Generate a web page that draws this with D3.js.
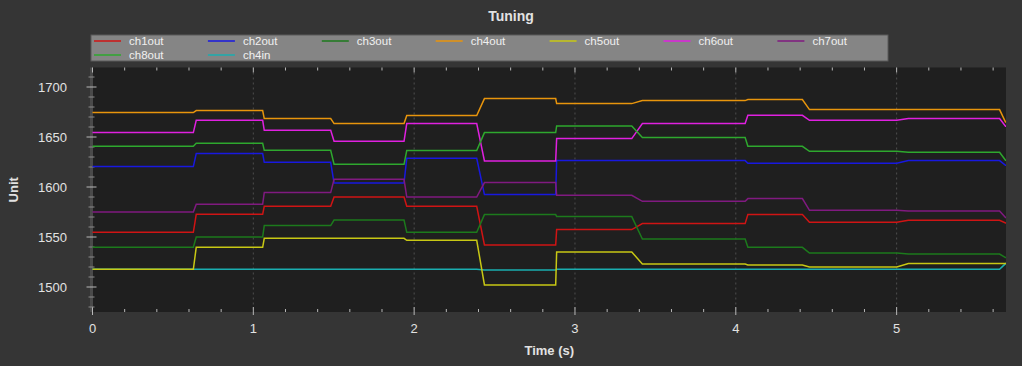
<!DOCTYPE html>
<html>
<head>
<meta charset="utf-8">
<script src="https://cdn.jsdelivr.net/npm/d3@7"></script>
<style>
  body { margin: 0; background: #353535; }
  .chart text { font-family: "Liberation Sans", Arial, sans-serif; fill: #e2e2e2; }
</style>
</head>
<body>
<div class="chart"></div>
<script>
// series names, colours (legend order)
const names = ["ch1out", "ch2out", "ch3out", "ch4out", "ch5out", "ch6out", "ch7out", "ch8out", "ch4in"];
const colors = ["#d01414", "#1818e0", "#1c7a1c", "#e8950c", "#c8c814", "#e020e0", "#801a80", "#2ea82e", "#1aaeb0"];

// times (s) where each step begins and ends its ramp
const stepStart = [0.627, 1.058, 1.481, 1.937, 2.389, 2.880, 3.353, 4.058, 4.414, 5.001, 5.640];
const stepEnd   = [0.645, 1.068, 1.502, 1.954, 2.437, 2.886, 3.419, 4.075, 4.458, 5.073, 5.677];
const tMax = 5.68;

// level of each series between the steps
const ch1out = [1554.7, 1572.7, 1580.7, 1590.0, 1580.7, 1542.0, 1557.4, 1563.4, 1572.4, 1564.7, 1566.7, 1564.0];
const ch2out = [1620.4, 1633.4, 1624.7, 1604.0, 1628.7, 1592.4, 1626.4, 1626.4, 1623.7, 1623.7, 1626.4, 1621.7];
const ch3out = [1539.7, 1550.0, 1561.4, 1567.0, 1554.7, 1572.4, 1570.4, 1548.0, 1539.7, 1534.0, 1533.0, 1529.4];
const ch4out = [1674.4, 1676.4, 1668.4, 1663.4, 1671.4, 1688.4, 1683.4, 1686.4, 1687.4, 1677.4, 1677.4, 1665.0];
const ch5out = [1517.7, 1539.7, 1548.7, 1548.7, 1546.7, 1502.0, 1535.0, 1523.0, 1522.0, 1520.0, 1523.4, 1523.4];
const ch6out = [1654.4, 1666.7, 1656.7, 1645.7, 1663.4, 1626.0, 1648.4, 1663.4, 1671.7, 1666.7, 1668.4, 1660.7];
const ch7out = [1575.0, 1582.7, 1594.4, 1607.7, 1590.0, 1604.4, 1591.7, 1585.7, 1588.4, 1576.7, 1576.0, 1569.4];
const ch8out = [1640.7, 1643.7, 1636.7, 1622.7, 1636.4, 1654.4, 1661.0, 1649.4, 1640.7, 1635.7, 1634.7, 1626.7];
const ch4in  = [1517.7, 1517.7, 1517.7, 1517.7, 1517.7, 1517.0, 1517.7, 1517.7, 1517.7, 1517.7, 1517.7, 1523.4];
const levels = [ch1out, ch2out, ch3out, ch4out, ch5out, ch6out, ch7out, ch8out, ch4in];

const xTicks = [0, 1, 2, 3, 4, 5];
const yTicks = [1500, 1550, 1600, 1650, 1700];

// step levels -> line vertices
function points(lv){
    const pts = [[0, lv[0]]];
    for (let i = 0; i < stepStart.length; i++) {
        pts.push([stepStart[i], lv[i]]);
        pts.push([stepEnd[i], lv[i+1]]);
    }
    pts.push([tMax, lv[lv.length-1]]);
    return pts;
}

const W = 1022, H = 366;
const m = {left: 92.5, right: 1006, top: 67.5, bottom: 312};

const svg = d3.select(".chart")
    .append("svg")
    .attr("width", W)
    .attr("height", H);

svg.append("rect").attr("width", W).attr("height", H).attr("fill", "#353535");

const x = d3.scaleLinear().domain([0, tMax]).range([m.left, m.right]);
const y = d3.scaleLinear().domain([1475, 1719.5]).range([m.bottom, m.top]);

// plot background
svg.append("rect")
    .attr("x", m.left).attr("y", m.top)
    .attr("width", m.right - m.left).attr("height", m.bottom - m.top)
    .attr("fill", "#1f1f1f");
svg.append("line")
    .attr("x1", m.left - 1).attr("x2", m.left - 1)
    .attr("y1", m.top).attr("y2", m.bottom)
    .attr("stroke", "#4a4a4a").attr("stroke-width", 3);

// vertical grid
svg.append("g")
    .selectAll("line")
    .data(xTicks.slice(1))
    .enter().append("line")
    .attr("x1", d => x(d)).attr("x2", d => x(d))
    .attr("y1", m.top).attr("y2", m.bottom)
    .attr("stroke", "#4e4e4e")
    .attr("stroke-dasharray", "2,3");

// ticks
const xMinor = d3.range(0, tMax, 0.2).filter(d => Math.abs(d - Math.round(d)) > 0.01);
const yMinor = d3.range(1480, 1720, 10).filter(d => d % 50 != 0);
const tk = svg.append("g").attr("stroke", "#b8b8b8").attr("stroke-width", 1);
xTicks.forEach(d => {
    tk.append("line").attr("x1", x(d)).attr("x2", x(d)).attr("y1", m.bottom - 5).attr("y2", m.bottom + 3);
    tk.append("line").attr("x1", x(d)).attr("x2", x(d)).attr("y1", m.top).attr("y2", m.top + 5);
});
xMinor.forEach(d => {
    tk.append("line").attr("x1", x(d)).attr("x2", x(d)).attr("y1", m.bottom - 3).attr("y2", m.bottom);
    tk.append("line").attr("x1", x(d)).attr("x2", x(d)).attr("y1", m.top).attr("y2", m.top + 3);
});
yTicks.forEach(d => {
    tk.append("line").attr("x1", m.left - 6).attr("x2", m.left + 4).attr("y1", y(d)).attr("y2", y(d));
});
yMinor.forEach(d => {
    tk.append("line").attr("x1", m.left - 4).attr("x2", m.left + 2).attr("y1", y(d)).attr("y2", y(d))
        .attr("stroke", "#8a8a8a");
});

// tick labels
svg.append("g")
    .selectAll("text")
    .data(xTicks)
    .enter().append("text")
    .attr("x", d => x(d)).attr("y", 333)
    .attr("text-anchor", "middle")
    .style("font-size", "13px")
    .text(d => d);
svg.append("g")
    .selectAll("text")
    .data(yTicks)
    .enter().append("text")
    .attr("x", 67).attr("y", d => y(d) + 5)
    .attr("text-anchor", "end")
    .style("font-size", "13px")
    .text(d => d);

// axis titles
svg.append("text")
    .attr("x", (m.left + m.right) / 2).attr("y", 355)
    .attr("text-anchor", "middle")
    .style("font-size", "13px").style("font-weight", "bold")
    .text("Time (s)");
svg.append("text")
    .attr("transform", `translate(18,${(m.top + m.bottom) / 2}) rotate(-90)`)
    .attr("text-anchor", "middle")
    .style("font-size", "13px").style("font-weight", "bold")
    .text("Unit");
svg.append("text")
    .attr("x", W / 2).attr("y", 21)
    .attr("text-anchor", "middle")
    .style("font-size", "14px").style("font-weight", "bold")
    .text("Tuning");

// lines, ch4in first so ch5out sits on top of it
const line = d3.line().x(d => x(d[0])).y(d => y(d[1]));
const order = [8, 0, 1, 2, 3, 4, 5, 6, 7];
svg.append("g")
    .selectAll("path")
    .data(order)
    .enter().append("path")
    .attr("d", i => line(points(levels[i])))
    .attr("fill", "none")
    .attr("stroke", i => colors[i])
    .attr("stroke-width", 1.5);

// legend
svg.append("rect")
    .attr("x", 91).attr("y", 35)
    .attr("width", 797).attr("height", 26)
    .attr("fill", "#858585")
    .attr("stroke", "#5a5a5a");
const lg = svg.append("g")
    .selectAll("g")
    .data(names)
    .enter().append("g")
    .attr("transform", (d, i) => `translate(${94 + (i % 7) * 113.9},${i < 7 ? 41 : 55})`);
lg.append("line")
    .attr("x1", 0).attr("x2", 27)
    .attr("stroke", (d, i) => colors[i])
    .attr("stroke-width", 1.5);
lg.append("text")
    .attr("x", 35).attr("y", 4)
    .style("font-size", "11.5px")
    .style("fill", "#f0f0f0")
    .text(d => d);
</script>
</body>
</html>
